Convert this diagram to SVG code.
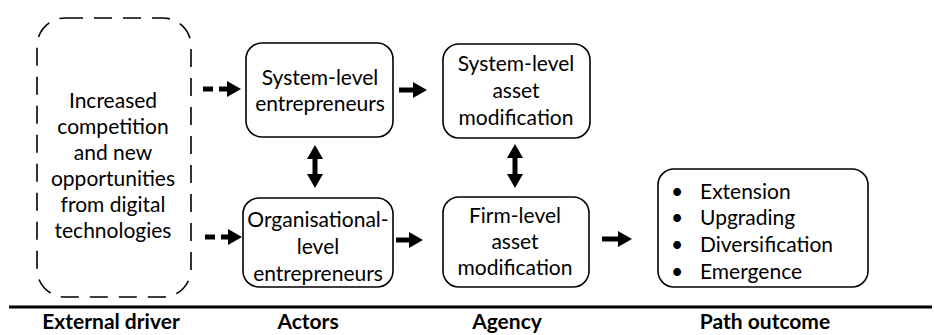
<svg xmlns="http://www.w3.org/2000/svg" width="934" height="335" viewBox="0 0 934 335">
<style>
  .box{fill:#fff;stroke:#000;stroke-width:1.6}
  .dbox{fill:none;stroke:#000;stroke-width:1.6;stroke-dasharray:18 11}
  text{font-family:Lato,"Open Sans","Liberation Sans",sans-serif;font-size:21px;fill:#000;text-anchor:middle}
  .lbl{font-weight:bold;font-size:21px}
  .lst{text-anchor:start}
  .sh{stroke:#000;stroke-width:5;fill:none}
  .dsh{stroke:#000;stroke-width:5;fill:none;stroke-dasharray:10 6}
</style>
<defs>
  <marker id="ah" markerUnits="userSpaceOnUse" markerWidth="15" markerHeight="18" refX="1" refY="9" orient="auto-start-reverse">
    <path d="M0,1 L14,9 L0,17 Z" fill="#000"/>
  </marker>
</defs>
<g id="driver">
  <rect class="dbox" x="37" y="18" width="154" height="279" rx="28"/>
  <text x="113" y="108">Increased</text>
  <text x="113" y="134">competition</text>
  <text x="113" y="160">and new</text>
  <text x="113" y="186">opportunities</text>
  <text x="113" y="212">from digital</text>
  <text x="113" y="238">technologies</text>
</g>
<g id="sys-ent">
  <rect class="box" x="246" y="43" width="147" height="94" rx="16"/>
  <text x="320" y="85">System-level</text>
  <text x="320" y="111">entrepreneurs</text>
</g>
<g id="org-ent">
  <rect class="box" x="243" y="198" width="150" height="89" rx="16"/>
  <text x="318" y="227">Organisational-</text>
  <text x="318" y="254">level</text>
  <text x="318" y="281">entrepreneurs</text>
</g>
<g id="sys-asset">
  <rect class="box" x="443" y="44" width="147" height="94" rx="16"/>
  <text x="516" y="71">System-level</text>
  <text x="516" y="98">asset</text>
  <text x="516" y="125">modification</text>
</g>
<g id="firm-asset">
  <rect class="box" x="443" y="197" width="146" height="90" rx="16"/>
  <text x="515" y="223">Firm-level</text>
  <text x="515" y="249">asset</text>
  <text x="515" y="275">modification</text>
</g>
<g id="outcome">
  <rect class="box" x="658" y="169" width="210" height="118" rx="16"/>
  <text class="lst" x="671" y="199">•</text>
  <text class="lst" x="671" y="225">•</text>
  <text class="lst" x="671" y="252">•</text>
  <text class="lst" x="671" y="279">•</text>
  <text class="lst" x="700" y="199">Extension</text>
  <text class="lst" x="700" y="225">Upgrading</text>
  <text class="lst" x="700" y="252">Diversification</text>
  <text class="lst" x="700" y="279">Emergence</text>
</g>
<g id="connectors">
  <path class="dsh" d="M203,89 H228" marker-end="url(#ah)"/>
  <path class="dsh" d="M205,237 H229" marker-end="url(#ah)"/>
  <path class="sh" d="M399,90 H414" marker-end="url(#ah)"/>
  <path class="sh" d="M396,240 H410" marker-end="url(#ah)"/>
  <path class="sh" d="M602,239 H619" marker-end="url(#ah)"/>
  <path class="sh" d="M315,158 V175" marker-start="url(#ah)" marker-end="url(#ah)"/>
  <path class="sh" d="M515,157 V175" marker-start="url(#ah)" marker-end="url(#ah)"/>
</g>
<g id="axis">
  <line x1="9" y1="307" x2="932" y2="307" stroke="#000" stroke-width="3"/>
  <text class="lbl" x="111" y="329">External driver</text>
  <text class="lbl" x="308" y="329">Actors</text>
  <text class="lbl" x="507" y="329">Agency</text>
  <text class="lbl" x="765" y="329">Path outcome</text>
</g>
</svg>
